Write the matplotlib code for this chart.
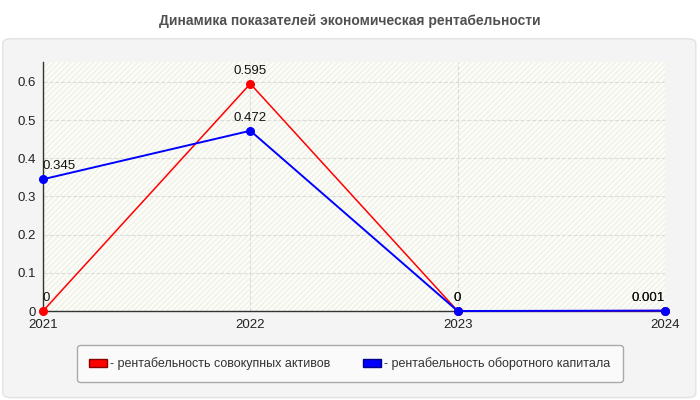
import matplotlib.pyplot as plt
from matplotlib.patches import FancyBboxPatch, Patch

plt.rcParams['font.family'] = ['Liberation Sans', 'DejaVu Sans']

years = [2021, 2022, 2023, 2024]
assets = [0, 0.595, 0, 0.001]
capital = [0.345, 0.472, 0, 0.001]
labels = ['- рентабельность совокупных активов', '- рентабельность оборотного капитала']
title = 'Динамика показателей экономическая рентабельности'

fig = plt.figure(figsize=(7, 4), dpi=100)
fig.patch.set_facecolor('white')

# outer gray panel, kept under the axes
panel = FancyBboxPatch((0.004, 0.006), 0.99, 0.897, boxstyle='round,pad=0,rounding_size=0.012',
                       transform=fig.transFigure, facecolor='#f4f4f4', edgecolor='#e2e2e2',
                       linewidth=1, zorder=-5)
fig.patches.append(panel)
fig.text(0.5, 0.948, title, ha='center', va='center', fontsize=10, fontweight='bold', color='#505050')

ax = fig.add_axes([0.0614, 0.2225, 0.8886, 0.6225])
ax.set_facecolor('#fdfdf8')
ax.patch.set_hatch('//////')
ax.patch.set_edgecolor('#f0f0ea')
ax.patch.set_linewidth(0)

ax.plot(years, assets, color='#ff0000', lw=1.1, marker='o', ms=5.5, zorder=3)
ax.plot(years, capital, color='#0000ff', lw=1.4, marker='o', ms=5.5, zorder=4)

for series in (assets, capital):
    for i, (x, y) in enumerate(zip(years, series)):
        ha = 'left' if i == 0 else ('right' if i == len(years) - 1 else 'center')
        ax.annotate(f'{y:g}', (x, y), xytext=(0, 5), textcoords='offset points',
                    ha=ha, va='bottom', fontsize=9.5, color='#111111', zorder=5)

ax.set_xlim(2021, 2024)
ax.set_ylim(0, 0.652)
ax.set_xticks(years)
ax.set_yticks([0, 0.1, 0.2, 0.3, 0.4, 0.5, 0.6])
ax.set_yticklabels(['0', '0.1', '0.2', '0.3', '0.4', '0.5', '0.6'])
ax.tick_params(length=0, labelsize=9.5, colors='#222222')
ax.tick_params(axis='x', pad=6)
ax.tick_params(axis='y', pad=5)
ax.grid(True, color='#dcdcdc', linestyle='--', linewidth=0.8)
for s in ('top', 'right'):
    ax.spines[s].set_visible(False)
for s in ('left', 'bottom'):
    ax.spines[s].set_color('#333333')
    ax.spines[s].set_linewidth(1)
for ln in ax.lines:
    ln.set_clip_on(False)

handles = [Patch(facecolor='#ff0000', edgecolor='#880000'), Patch(facecolor='#0000ff', edgecolor='#000088')]
leg = fig.legend(handles, labels, loc='center', bbox_to_anchor=(0.5, 0.091), ncol=2, fontsize=9,
                 frameon=True, fancybox=True, handlelength=1.4, handleheight=0.6, handletextpad=0.3,
                 columnspacing=2.6, borderpad=0.95, borderaxespad=0)
leg.get_frame().set_facecolor('#fafafa')
leg.get_frame().set_edgecolor('#aaaaaa')
leg.get_frame().set_alpha(1)
for t in leg.get_texts():
    t.set_color('#333333')

fig.savefig('out.png', dpi=100, facecolor=fig.get_facecolor())
